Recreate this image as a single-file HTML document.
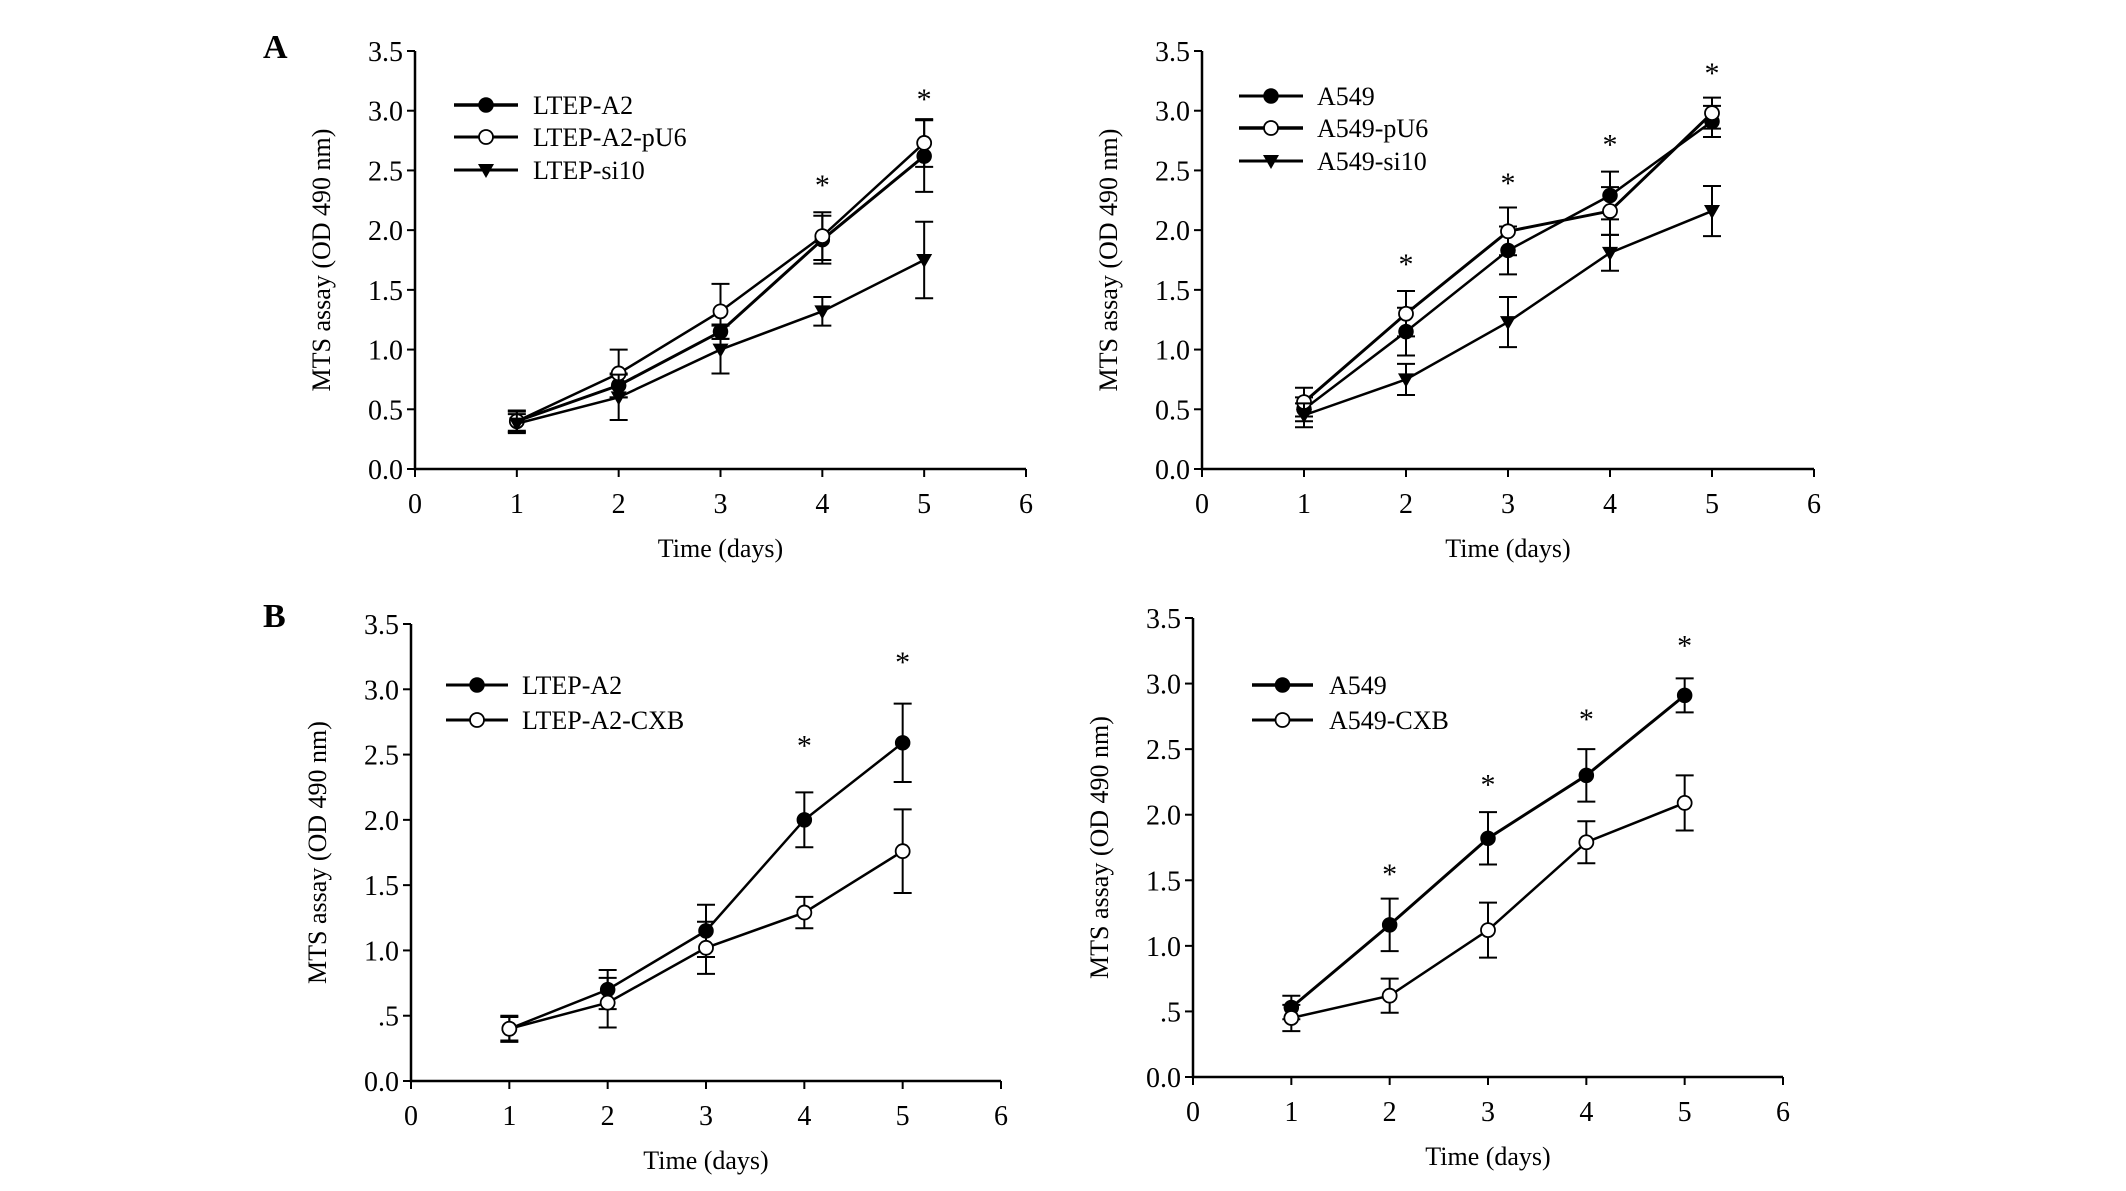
<!DOCTYPE html>
<html><head><meta charset="utf-8"><style>
html,body{margin:0;padding:0;background:#fff;}
svg{display:block;font-family:"Liberation Serif",serif;}
</style></head><body>
<svg id="fig" width="2126" height="1191" viewBox="0 0 2126 1191"></svg>
<script>
const days = [1,2,3,4,5];
const xTicks = [0,1,2,3,4,5,6];
const yTicksA = ["0.0","0.5","1.0","1.5","2.0","2.5","3.0","3.5"];
const yTicksB = ["0.0",".5","1.0","1.5","2.0","2.5","3.0","3.5"];
const yTickVals = [0,0.5,1,1.5,2,2.5,3,3.5];

const ltepA2 = [0.4,0.7,1.15,1.92,2.62];
const ltepA2Err = [0.08,0.1,0.06,0.2,0.3];
const ltepPU6 = [0.4,0.8,1.32,1.95,2.73];
const ltepPU6Err = [0.09,0.2,0.23,0.2,0.2];
const ltepSi10 = [0.38,0.6,1.0,1.32,1.75];
const ltepSi10Err = [0.08,0.19,0.2,0.12,0.32];
const starsALeftX = [4,5];
const starsALeftY = [2.41,3.13];

const a549 = [0.5,1.15,1.83,2.29,2.91];
const a549Err = [0.1,0.2,0.2,0.2,0.13];
const a549PU6 = [0.56,1.3,1.99,2.16,2.98];
const a549PU6Err = [0.12,0.19,0.2,0.2,0.13];
const a549Si10 = [0.45,0.75,1.23,1.81,2.16];
const a549Si10Err = [0.1,0.13,0.21,0.15,0.21];
const starsARightX = [2,3,4,5];
const starsARightY = [1.75,2.43,2.75,3.35];

const ltepB = [0.4,0.7,1.15,2.0,2.59];
const ltepBErr = [0.09,0.15,0.2,0.21,0.3];
const ltepCXB = [0.4,0.6,1.02,1.29,1.76];
const ltepCXBErr = [0.1,0.19,0.2,0.12,0.32];
const starsBLeftX = [4,5];
const starsBLeftY = [2.6,3.24];

const a549B = [0.53,1.16,1.82,2.3,2.91];
const a549BErr = [0.09,0.2,0.2,0.2,0.13];
const a549CXB = [0.45,0.62,1.12,1.79,2.09];
const a549CXBErr = [0.1,0.13,0.21,0.16,0.21];
const starsBRightX = [2,3,4,5];
const starsBRightY = [1.58,2.26,2.76,3.32];

const NS = "http://www.w3.org/2000/svg";
const svg = document.getElementById('fig');
function el(tag, attrs, parent, text){
  const e = document.createElementNS(NS, tag);
  for (const k in attrs) e.setAttribute(k, attrs[k]);
  if (text !== undefined) e.textContent = text;
  (parent||svg).appendChild(e);
  return e;
}
function marker(g, type, cx, cy){
  let m;
  if (type==='filled') m = el('circle',{cx:cx,cy:cy,r:7,fill:'#000',stroke:'#000','stroke-width':1.5},g);
  else if (type==='open') m = el('circle',{cx:cx,cy:cy,r:7,fill:'#fff',stroke:'#000','stroke-width':1.8},g);
  else m = el('polygon',{points:(cx-8)+','+(cy-6)+' '+(cx+8)+','+(cy-6)+' '+cx+','+(cy+8),fill:'#000'},g);
  return m;
}
function panel(p){
  const g = el('g',{});
  
  
  const X = v => p.x0 + (p.x6-p.x0)*v/6;
  const Y = v => p.y0 - (p.y0-p.y35)*v/3.5;
  const ax = el('path',{d:`M${p.x0},${p.y35}V${p.y0}H${p.x6}`,fill:'none',stroke:'#000','stroke-width':2.5},g);
  
  
  xTicks.forEach(t=>{
    el('line',{x1:X(t),x2:X(t),y1:p.y0,y2:p.y0+8,stroke:'#000','stroke-width':2},g);
    const tl = el('text',{x:X(t),y:p.y0+44,'text-anchor':'middle','font-size':28},g,String(t));
    
    
  });
  yTickVals.forEach((v,i)=>{
    el('line',{x1:p.x0-8,x2:p.x0,y1:Y(v),y2:Y(v),stroke:'#000','stroke-width':2},g);
    const tl = el('text',{x:p.x0-12,y:Y(v)+10,'text-anchor':'end','font-size':28},g,p.yLabels[i]);
    
    
  });
  const xt = el('text',{x:X(3),y:p.y0+88,'text-anchor':'middle','font-size':26},g,'Time (days)');
  
  
  const yc = (p.y0+p.y35)/2;
  const yt = el('text',{x:p.x0-85,y:yc,'text-anchor':'middle','font-size':26,transform:`rotate(-90 ${p.x0-85} ${yc})`},g,'MTS assay (OD 490 nm)');
  
  
  p.series.forEach(s=>{
    const sg = el('g',{},g);
    
    
    days.forEach((d,i)=>{
      const x = X(d), y1 = Y(s.v[i]-s.e[i]), y2 = Y(s.v[i]+s.e[i]);
      el('path',{d:`M${x},${y1}V${y2}M${x-9},${y1}H${x+9}M${x-9},${y2}H${x+9}`,stroke:'#000','stroke-width':2,fill:'none'},sg);
    });
    const pts = days.map((d,i)=>X(d)+','+Y(s.v[i])).join(' ');
    el('polyline',{points:pts,fill:'none',stroke:'#000','stroke-width':s.w},sg);
    days.forEach((d,i)=>{
      const m = marker(sg, s.m, X(d), Y(s.v[i]));
      
      
    });
  });
  p.starsX.forEach((d,i)=>{
    const st = el('text',{x:X(d),y:Y(p.starsY[i])+14,'text-anchor':'middle','font-size':30},g,'*');
    
    
  });
  p.series.forEach((s,i)=>{
    const ly = p.leg.y[i];
    const lg = el('g',{},g);
    
    
    el('line',{x1:p.leg.x1,x2:p.leg.x2,y1:ly,y2:ly,stroke:'#000','stroke-width':s.w+0.5},lg);
    marker(lg, s.m, (p.leg.x1+p.leg.x2)/2, ly);
    el('text',{x:p.leg.tx,y:ly+9,'font-size':26},lg,s.label);
  });
}
panel({name:'panel-a-left',x0:415,x6:1026,y0:469,y35:51,yLabels:yTicksA,
  series:[{label:'LTEP-A2',v:ltepA2,e:ltepA2Err,m:'filled',w:3},
          {label:'LTEP-A2-pU6',v:ltepPU6,e:ltepPU6Err,m:'open',w:2.5},
          {label:'LTEP-si10',v:ltepSi10,e:ltepSi10Err,m:'tri',w:2.5}],
  starsX:starsALeftX,starsY:starsALeftY,leg:{x1:454,x2:518,tx:533,y:[105,137,170]}});
panel({name:'panel-a-right',x0:1202,x6:1814,y0:469,y35:51,yLabels:yTicksA,
  series:[{label:'A549',v:a549,e:a549Err,m:'filled',w:2.5},
          {label:'A549-pU6',v:a549PU6,e:a549PU6Err,m:'open',w:3},
          {label:'A549-si10',v:a549Si10,e:a549Si10Err,m:'tri',w:2.5}],
  starsX:starsARightX,starsY:starsARightY,leg:{x1:1239,x2:1303,tx:1317,y:[96,128,161]}});
panel({name:'panel-b-left',x0:411,x6:1001,y0:1081,y35:624,yLabels:yTicksB,
  series:[{label:'LTEP-A2',v:ltepB,e:ltepBErr,m:'filled',w:2.5},
          {label:'LTEP-A2-CXB',v:ltepCXB,e:ltepCXBErr,m:'open',w:2.5}],
  starsX:starsBLeftX,starsY:starsBLeftY,leg:{x1:446,x2:508,tx:522,y:[685,720]}});
panel({name:'panel-b-right',x0:1193,x6:1783,y0:1077,y35:618,yLabels:yTicksB,
  series:[{label:'A549',v:a549B,e:a549BErr,m:'filled',w:3},
          {label:'A549-CXB',v:a549CXB,e:a549CXBErr,m:'open',w:2.5}],
  starsX:starsBRightX,starsY:starsBRightY,leg:{x1:1252,x2:1313,tx:1329,y:[685,720]}});
const la = el('text',{x:263,y:58,'font-size':34,'font-weight':'bold'},svg,'A');


const lb = el('text',{x:263,y:627,'font-size':34,'font-weight':'bold'},svg,'B');


</script>
</body></html>
